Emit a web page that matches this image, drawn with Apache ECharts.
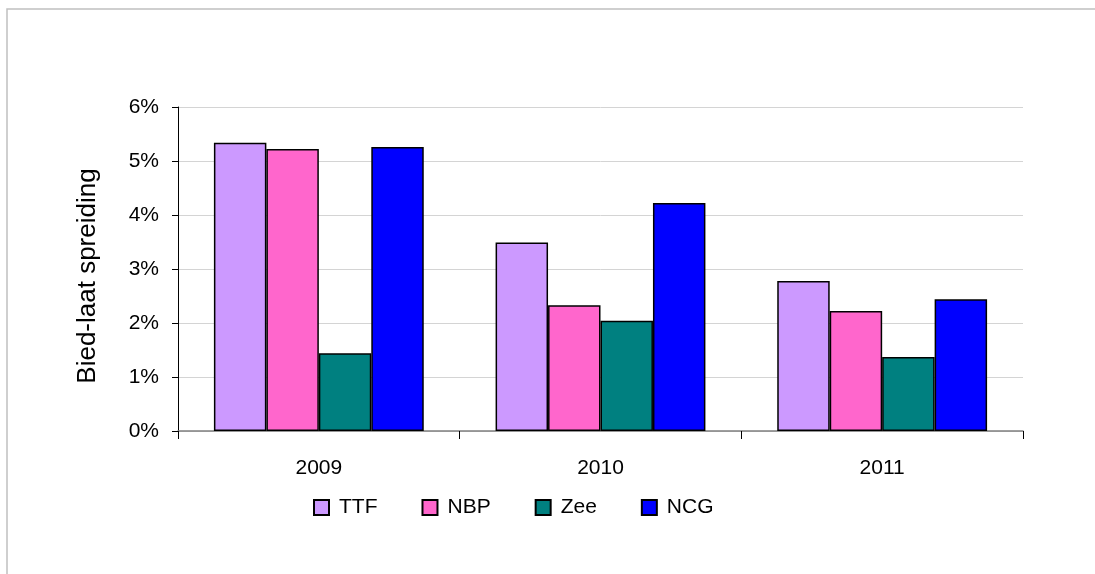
<!DOCTYPE html>
<html>
<head>
<meta charset="utf-8">
<script src="https://cdn.jsdelivr.net/npm/echarts@6/dist/echarts.min.js"></script>
<style>
html,body{margin:0;padding:0;background:#fff;}
#chart{width:1095px;height:574px;}
</style>
</head>
<body>
<div id="chart"></div>
<script>
const categories = ['2009', '2010', '2011'];
const seriesNames = ['TTF', 'NBP', 'Zee', 'NCG'];
const ttf = [5.34, 3.49, 2.78];
const nbp = [5.22, 2.33, 2.22];
const zee = [1.44, 2.04, 1.37];
const ncg = [5.26, 4.22, 2.44];
const yTicks = [0, 1, 2, 3, 4, 5, 6];
const colors = ['#cc99ff', '#ff66cc', '#008080', '#0000ff'];
const yTitle = 'Bied-laat spreiding';

const seriesData = [ttf, nbp, zee, ncg];
const FONT = '"Liberation Sans", Arial, sans-serif';

const chart = echarts.init(document.getElementById('chart'), null, {renderer: 'canvas'});
chart.setOption({
  animation: false,
  backgroundColor: '#ffffff',
  graphic: [{
    type: 'polyline',
    shape: {points: [[7, 600], [7, 9], [1120, 9]]},
    style: {fill: 'none', stroke: '#c0c0c0', lineWidth: 1.5},
    silent: true
  }],
  grid: {left: 178, right: 72, top: 107, bottom: 143, containLabel: false},
  legend: {
    data: seriesNames,
    left: 308,
    top: 492,
    itemWidth: 15,
    itemHeight: 15,
    itemGap: 44,
    icon: 'rect',
    textStyle: {fontFamily: FONT, fontSize: 21, color: '#000', padding: [0, 0, 0, 5]}
  },
  xAxis: {
    type: 'category',
    data: categories,
    axisLine: {lineStyle: {color: '#808080', width: 1.5}},
    axisTick: {show: true, length: 8, lineStyle: {color: '#000'}},
    axisLabel: {fontFamily: FONT, fontSize: 21, color: '#000', margin: 27},
    splitLine: {show: false}
  },
  yAxis: {
    type: 'value',
    min: 0,
    max: 6,
    interval: 1,
    name: yTitle,
    nameLocation: 'middle',
    nameGap: 77,
    nameRotate: 90,
    nameTextStyle: {fontFamily: FONT, fontSize: 26, color: '#000', padding: [0, 14, 0, 0]},
    axisLine: {show: true, lineStyle: {color: '#000', width: 1}},
    axisTick: {show: true, length: 6, lineStyle: {color: '#000'}},
    axisLabel: {fontFamily: FONT, fontSize: 21, color: '#000', margin: 19,
      formatter: v => yTicks.indexOf(v) >= 0 ? v + '%' : ''},
    splitLine: {show: true, lineStyle: {color: '#d4d4d4', width: 1}}
  },
  series: seriesNames.map((name, i) => ({
    name: name,
    type: 'bar',
    data: seriesData[i],
    barGap: '0%',
    barCategoryGap: '25.5%',
    itemStyle: {color: colors[i], borderColor: '#000', borderWidth: 1.5}
  }))
});
</script>
</body>
</html>
